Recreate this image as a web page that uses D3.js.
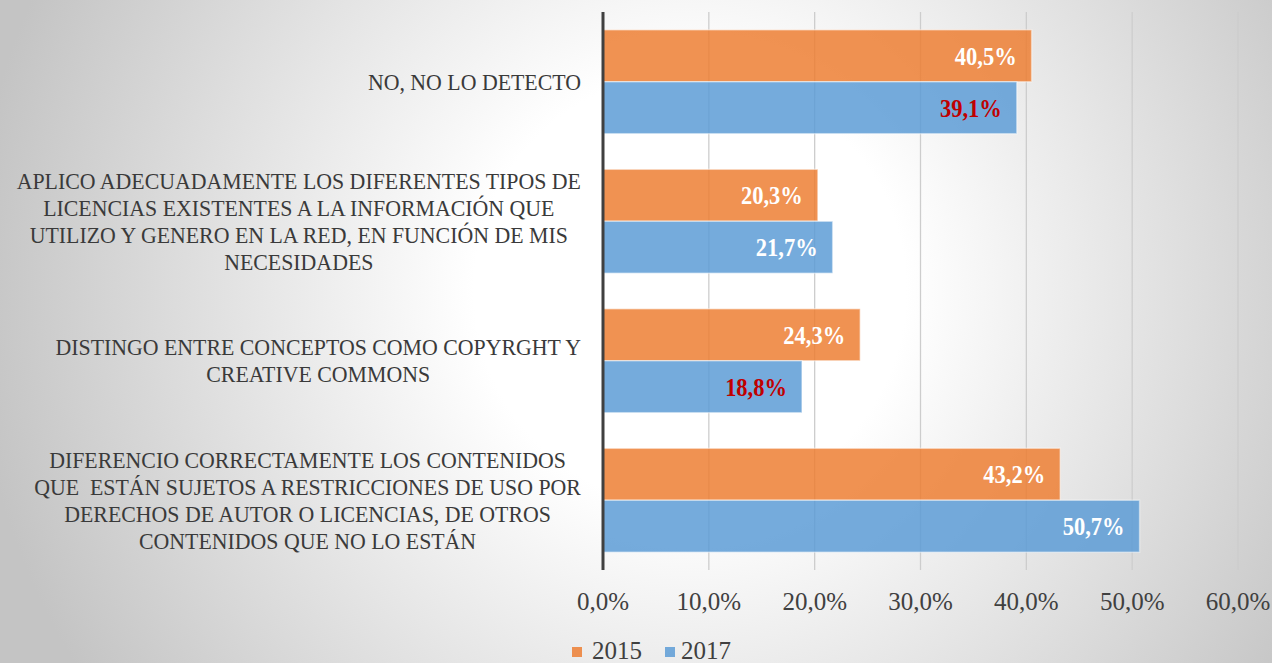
<!DOCTYPE html>
<html>
<head>
<meta charset="utf-8">
<script src="https://cdn.jsdelivr.net/npm/d3@7/dist/d3.min.js"></script>
<style>
  html, body { margin: 0; padding: 0; background: #fff; }
  svg { display: block; }
</style>
</head>
<body>
<svg id="chart" width="1272" height="663"></svg>
<script>
// ---- data ----
const categories = [
  "NO, NO LO DETECTO",
  "APLICO ADECUADAMENTE LOS DIFERENTES TIPOS DE\nLICENCIAS EXISTENTES A LA INFORMACIÓN QUE\nUTILIZO Y GENERO EN LA RED, EN FUNCIÓN DE MIS\nNECESIDADES",
  "DISTINGO ENTRE CONCEPTOS COMO COPYRGHT Y\nCREATIVE COMMONS",
  "DIFERENCIO CORRECTAMENTE LOS CONTENIDOS\nQUE  ESTÁN SUJETOS A RESTRICCIONES DE USO POR\nDERECHOS DE AUTOR O LICENCIAS, DE OTROS\nCONTENIDOS QUE NO LO ESTÁN"
];
const seriesNames = ["2015", "2017"];
const values2015 = [40.5, 20.3, 24.3, 43.2];
const values2017 = [39.1, 21.7, 18.8, 50.7];
const tickValues = [0, 10, 20, 30, 40, 50, 60];
const tickLabels = ["0,0%", "10,0%", "20,0%", "30,0%", "40,0%", "50,0%", "60,0%"];

// ---- setup ----
const W = 1272, H = 663;
const svg = d3.select("#chart");
const FONT = "'Liberation Serif', 'Times New Roman', serif";
const colors = { "2015": "#ED7D31", "2017": "#5B9BD5" };

// background gradient
const defs = svg.append("defs");
const grad = defs.append("radialGradient")
  .attr("id", "bg").attr("gradientUnits", "userSpaceOnUse")
  .attr("cx", 690).attr("cy", 290).attr("r", 720);
grad.append("stop").attr("offset", 0).attr("stop-color", "#ffffff");
grad.append("stop").attr("offset", 0.3).attr("stop-color", "#ffffff");
grad.append("stop").attr("offset", 1).attr("stop-color", "#c4c4c4");
svg.append("rect").attr("width", W).attr("height", H).attr("fill", "url(#bg)");

const plotTop = 12, plotBottom = 570;
const x = d3.scaleLinear().domain([0, 60]).range([603, 1238]);
const y = d3.scaleBand().domain(categories).range([plotTop, plotBottom])
  .paddingInner(0.255).paddingOuter(0.1275);
const ys = d3.scaleBand().domain(seriesNames).range([0, y.bandwidth()]);

// gridlines
svg.append("g").selectAll("line").data(tickValues.slice(1)).join("line")
  .attr("x1", d => x(d)).attr("x2", d => x(d))
  .attr("y1", plotTop).attr("y2", plotBottom)
  .attr("stroke", "#cdcdcd").attr("stroke-width", 1.3);

// bars
const rows = categories.map((c, i) => ({
  cat: c,
  vals: [
    { s: "2015", v: values2015[i], prev: null },
    { s: "2017", v: values2017[i], prev: values2015[i] }
  ]
}));

const gRows = svg.append("g").selectAll("g").data(rows).join("g")
  .attr("transform", d => `translate(0,${y(d.cat)})`);

gRows.selectAll("rect").data(d => d.vals).join("rect")
  .attr("x", x(0))
  .attr("y", d => ys(d.s))
  .attr("width", d => x(d.v) - x(0))
  .attr("height", ys.bandwidth())
  .attr("fill", d => colors[d.s])
  .attr("fill-opacity", 0.84)
  .attr("stroke", "#ffffff").attr("stroke-opacity", 0.45).attr("stroke-width", 1.5);

// data labels
const fmt = v => v.toFixed(1).replace(".", ",") + "%";
gRows.selectAll("text.val").data(d => d.vals).join("text")
  .attr("class", "val")
  .attr("transform", d => `translate(${x(d.v) - 15},${ys(d.s) + ys.bandwidth() / 2 + 9}) scale(0.9,1)`)
  .attr("text-anchor", "end")
  .attr("font-family", FONT).attr("font-weight", "bold").attr("font-size", 25)
  .attr("fill", d => (d.prev !== null && d.v < d.prev) ? "#C00000" : "#ffffff")
  .text(d => fmt(d.v));

// axis line at zero
svg.append("line")
  .attr("x1", x(0)).attr("x2", x(0)).attr("y1", plotTop).attr("y2", plotBottom)
  .attr("stroke", "#404040").attr("stroke-width", 3);

// x tick labels
svg.append("g").selectAll("text").data(tickValues).join("text")
  .attr("x", d => x(d)).attr("y", 610)
  .attr("text-anchor", "middle")
  .attr("font-family", FONT).attr("font-size", 25).attr("fill", "#404040")
  .text((d, i) => tickLabels[i]);

// category labels
const SX = 0.91, LH = 27, RIGHT = 581;
const gCat = svg.append("g");
categories.forEach(c => {
  const lines = c.split("\n");
  const cy = y(c) + y.bandwidth() / 2;
  const texts = lines.map((ln, i) => gCat.append("text")
    .attr("text-anchor", "middle")
    .attr("font-family", FONT).attr("font-size", 24).attr("fill", "#3a3a3a")
    .attr("xml:space", "preserve")
    .text(ln));
  const widths = texts.map(t => t.node().getComputedTextLength() * SX);
  const maxW = d3.max(widths);
  const cx = RIGHT - maxW / 2;
  texts.forEach((t, i) => {
    const by = cy + (i - (lines.length - 1) / 2) * LH + 8;
    t.attr("transform", `translate(${cx},${by}) scale(${SX},1)`);
  });
});

// legend
const legend = svg.append("g");
const legendPos = [{ s: "2015", sx: 572, tx: 592 }, { s: "2017", sx: 665, tx: 681 }];
legend.selectAll("rect").data(legendPos).join("rect")
  .attr("x", d => d.sx).attr("y", 647).attr("width", 10).attr("height", 10)
  .attr("fill", d => colors[d.s]).attr("fill-opacity", 0.84);
legend.selectAll("text").data(legendPos).join("text")
  .attr("x", d => d.tx).attr("y", 659)
  .attr("font-family", FONT).attr("font-size", 25).attr("fill", "#404040")
  .text(d => d.s);
</script>
</body>
</html>
